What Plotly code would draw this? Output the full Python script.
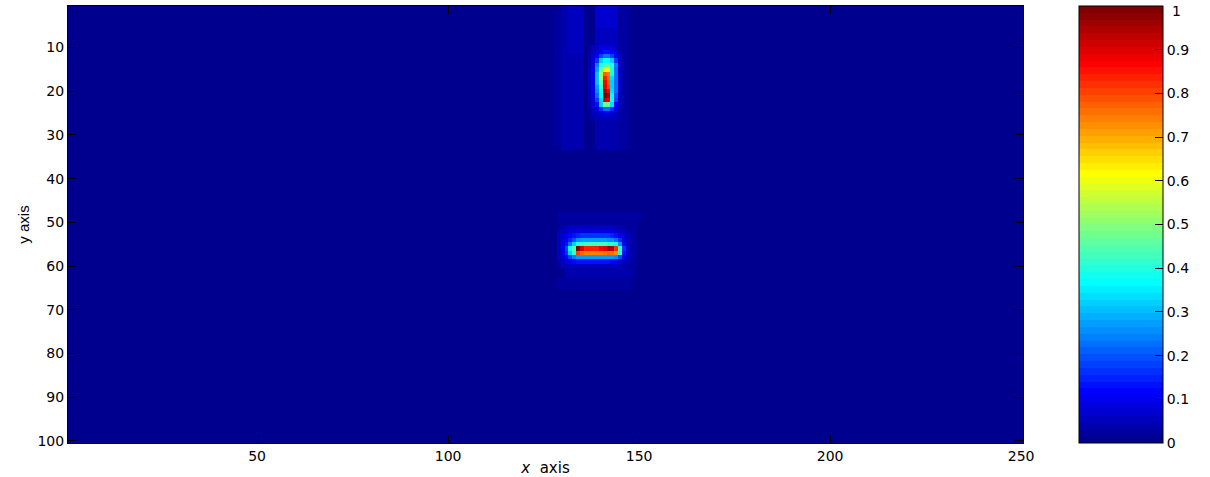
import plotly.graph_objects as go

# ---------------- data ----------------
n_cols = 250
n_rows = 100
background_level = 0.0

x_tick_values = [50, 100, 150, 200, 250]
y_tick_values = [10, 20, 30, 40, 50, 60, 70, 80, 90, 100]
colorbar_tick_values = [0, 0.1, 0.2, 0.3, 0.4, 0.5, 0.6, 0.7, 0.8, 0.9, 1]
colorbar_tick_labels = ["0", "0.1", "0.2", "0.3", "0.4", "0.5", "0.6", "0.7", "0.8", "0.9", "1"]

# faint streaks around the two spots (inclusive column / row ranges)
streak_col_first = [128, 130, 132, 132, 136, 139, 139, 139, 145, 148, 129, 131, 150, 129]
streak_col_last = [129, 131, 135, 135, 138, 144, 144, 144, 147, 152, 150, 148, 158, 148]
streak_row_first = [2, 1, 1, 12, 1, 1, 6, 26, 1, 5, 48, 61, 50, 63]
streak_row_last = [32, 33, 11, 33, 33, 5, 9, 33, 33, 30, 50, 62, 64, 65]
streak_level = [0.025, 0.04, 0.055, 0.04, 0.012, 0.065, 0.05, 0.04, 0.025, 0.015, 0.025, 0.035, 0.015, 0.025]

# upper (vertical) spot: rows 10..26, columns 137..146
spot_a_first_row = 10
spot_a_first_col = 137
spot_a_values = [
    [0.03, 0.05, 0.07, 0.08, 0.09, 0.09, 0.08, 0.06, 0.04, 0.03],
    [0.03, 0.06, 0.09, 0.12, 0.14, 0.14, 0.12, 0.08, 0.04, 0.03],
    [0.04, 0.07, 0.12, 0.18, 0.22, 0.22, 0.18, 0.11, 0.05, 0.03],
    [0.04, 0.08, 0.16, 0.32, 0.36, 0.36, 0.32, 0.16, 0.06, 0.03],
    [0.04, 0.09, 0.24, 0.40, 0.44, 0.44, 0.40, 0.24, 0.07, 0.03],
    [0.05, 0.10, 0.28, 0.46, 0.62, 0.60, 0.40, 0.22, 0.07, 0.03],
    [0.05, 0.10, 0.30, 0.52, 0.78, 0.74, 0.38, 0.22, 0.07, 0.03],
    [0.05, 0.10, 0.30, 0.50, 0.84, 0.76, 0.34, 0.22, 0.07, 0.03],
    [0.05, 0.10, 0.30, 0.46, 0.86, 0.78, 0.32, 0.22, 0.07, 0.03],
    [0.05, 0.10, 0.28, 0.42, 0.88, 0.80, 0.32, 0.22, 0.07, 0.03],
    [0.05, 0.10, 0.26, 0.38, 0.94, 0.86, 0.34, 0.22, 0.07, 0.03],
    [0.05, 0.09, 0.22, 0.36, 1.00, 0.94, 0.36, 0.20, 0.06, 0.03],
    [0.04, 0.08, 0.18, 0.34, 0.92, 0.88, 0.38, 0.18, 0.06, 0.03],
    [0.04, 0.07, 0.14, 0.32, 0.48, 0.46, 0.34, 0.12, 0.05, 0.03],
    [0.03, 0.06, 0.09, 0.16, 0.22, 0.22, 0.16, 0.08, 0.04, 0.03],
    [0.03, 0.05, 0.06, 0.08, 0.10, 0.10, 0.08, 0.06, 0.04, 0.03],
    [0.03, 0.04, 0.05, 0.06, 0.06, 0.06, 0.06, 0.05, 0.04, 0.03],
]

# lower (horizontal) spot: rows 51..60, columns 129..149
spot_b_first_row = 51
spot_b_first_col = 129
spot_b_values = [
    [0.03, 0.04, 0.05, 0.05, 0.05, 0.05, 0.06, 0.06, 0.05, 0.05, 0.05, 0.05, 0.05, 0.05, 0.05, 0.04, 0.04, 0.03, 0.03, 0.03, 0.02],
    [0.04, 0.05, 0.06, 0.07, 0.07, 0.08, 0.09, 0.09, 0.09, 0.08, 0.08, 0.09, 0.09, 0.09, 0.08, 0.07, 0.06, 0.05, 0.04, 0.03, 0.03],
    [0.05, 0.07, 0.09, 0.11, 0.13, 0.15, 0.16, 0.16, 0.16, 0.16, 0.16, 0.16, 0.16, 0.16, 0.15, 0.13, 0.10, 0.07, 0.05, 0.04, 0.03],
    [0.05, 0.08, 0.11, 0.15, 0.20, 0.25, 0.27, 0.27, 0.27, 0.27, 0.27, 0.27, 0.27, 0.26, 0.25, 0.22, 0.16, 0.09, 0.06, 0.04, 0.03],
    [0.05, 0.09, 0.14, 0.22, 0.32, 0.40, 0.42, 0.43, 0.43, 0.43, 0.43, 0.43, 0.43, 0.42, 0.41, 0.38, 0.26, 0.12, 0.06, 0.04, 0.03],
    [0.05, 0.10, 0.18, 0.36, 0.44, 1.00, 0.90, 0.84, 0.84, 0.84, 0.84, 0.86, 0.90, 0.98, 0.94, 0.82, 0.42, 0.16, 0.07, 0.04, 0.03],
    [0.05, 0.09, 0.16, 0.32, 0.42, 0.80, 0.76, 0.74, 0.74, 0.74, 0.74, 0.74, 0.76, 0.78, 0.76, 0.72, 0.40, 0.14, 0.07, 0.04, 0.03],
    [0.05, 0.08, 0.12, 0.18, 0.24, 0.28, 0.28, 0.28, 0.28, 0.28, 0.28, 0.28, 0.28, 0.28, 0.28, 0.26, 0.20, 0.10, 0.06, 0.04, 0.03],
    [0.04, 0.06, 0.08, 0.10, 0.12, 0.13, 0.13, 0.13, 0.13, 0.13, 0.13, 0.13, 0.13, 0.13, 0.12, 0.11, 0.09, 0.06, 0.05, 0.03, 0.03],
    [0.03, 0.05, 0.06, 0.06, 0.06, 0.06, 0.06, 0.06, 0.06, 0.06, 0.06, 0.06, 0.06, 0.06, 0.06, 0.05, 0.05, 0.04, 0.03, 0.03, 0.02],
]

# ---------------- build matrix ----------------
z = [[background_level] * n_cols for _ in range(n_rows)]
for c0, c1, r0, r1, v in zip(streak_col_first, streak_col_last, streak_row_first, streak_row_last, streak_level):
    for r in range(r0, r1 + 1):
        for c in range(c0, c1 + 1):
            z[r - 1][c - 1] = v


def place(values, first_row, first_col):
    for i, row in enumerate(values):
        for j, v in enumerate(row):
            z[first_row - 1 + i][first_col - 1 + j] = v


place(spot_a_values, spot_a_first_row, spot_a_first_col)
place(spot_b_values, spot_b_first_row, spot_b_first_col)

x_coords = list(range(1, n_cols + 1))
y_coords = list(range(1, n_rows + 1))


# ---------------- jet (64 steps) colormap ----------------
def jet(t):
    def cl(v):
        return max(0.0, min(1.0, v))
    r = cl(1.5 - abs(4 * t - 3))
    g = cl(1.5 - abs(4 * t - 2))
    b = cl(1.5 - abs(4 * t - 1))
    return f"rgb({round(r*255)},{round(g*255)},{round(b*255)})"


n_steps = 64
colorscale = []
for i in range(n_steps):
    col = jet((i + 1) / n_steps)
    colorscale.append([i / n_steps, col])
    colorscale.append([(i + 1) / n_steps, col])

# ---------------- figure ----------------
W, H = 1210, 477
ml, mr, mt, mb = 68, 187, 6, 34
plot_w = W - ml - mr
cb_left_px = 1079
cb_x = (cb_left_px - ml) / plot_w
cb_label_x = (1170 - ml) / plot_w

tick_font = dict(family="DejaVu Sans", size=14, color="black")

# the topmost colorbar label is drawn as an annotation so it stays inside the page
cb_ticktext = colorbar_tick_labels[:-1] + [""]

fig = go.Figure(
    go.Heatmap(
        x=x_coords,
        y=y_coords,
        z=z,
        zmin=0,
        zmax=1,
        colorscale=colorscale,
        zsmooth=False,
        colorbar=dict(
            x=cb_x,
            xanchor="left",
            xpad=0,
            y=0.5,
            yanchor="middle",
            ypad=0,
            len=1,
            lenmode="fraction",
            thickness=84,
            thicknessmode="pixels",
            outlinewidth=1,
            outlinecolor="black",
            tickmode="array",
            tickvals=colorbar_tick_values,
            ticktext=cb_ticktext,
            ticks="inside",
            ticklen=8,
            tickcolor="black",
            tickfont=tick_font,
            ticklabeloverflow="allow",
        ),
    )
)

fig.add_annotation(
    text=colorbar_tick_labels[-1],
    xref="paper",
    yref="paper",
    x=cb_label_x,
    y=colorbar_tick_values[-1],
    xanchor="left",
    yanchor="top",
    yshift=5,
    showarrow=False,
    font=tick_font,
)

# left-side colorbar ticks (ticks on both edges)
for v in colorbar_tick_values[1:-1]:
    fig.add_shape(
        type="line",
        xref="paper",
        yref="paper",
        x0=cb_x,
        x1=cb_x + 8 / plot_w,
        y0=v,
        y1=v,
        line=dict(color="black", width=1),
    )

fig.update_layout(
    width=W,
    height=H,
    margin=dict(l=ml, r=mr, t=mt, b=mb, autoexpand=False),
    paper_bgcolor="white",
    plot_bgcolor="white",
    xaxis=dict(
        range=[0.5, n_cols + 0.5],
        tickvals=x_tick_values,
        ticks="inside",
        ticklen=8,
        tickcolor="black",
        showline=True,
        linecolor="black",
        linewidth=1,
        mirror="ticks",
        showgrid=False,
        zeroline=False,
        automargin=False,
        tickfont=tick_font,
        title=dict(
            text="<i>x</i>\u00a0 axis",
            font=dict(family="DejaVu Sans", size=15, color="black"),
            standoff=0,
        ),
    ),
    yaxis=dict(
        range=[n_rows + 0.5, 0.5],
        tickvals=y_tick_values,
        ticks="inside",
        ticklen=8,
        tickcolor="black",
        showline=True,
        linecolor="black",
        linewidth=1,
        mirror="ticks",
        showgrid=False,
        zeroline=False,
        automargin=False,
        tickfont=tick_font,
        title=dict(
            text="y axis",
            font=dict(family="Liberation Sans", size=15, color="black"),
            standoff=4,
        ),
    ),
)

fig.write_html(
    "out.html",
    config={"displayModeBar": False},
    post_script="document.body.style.margin='0';document.body.style.padding='0';",
)
